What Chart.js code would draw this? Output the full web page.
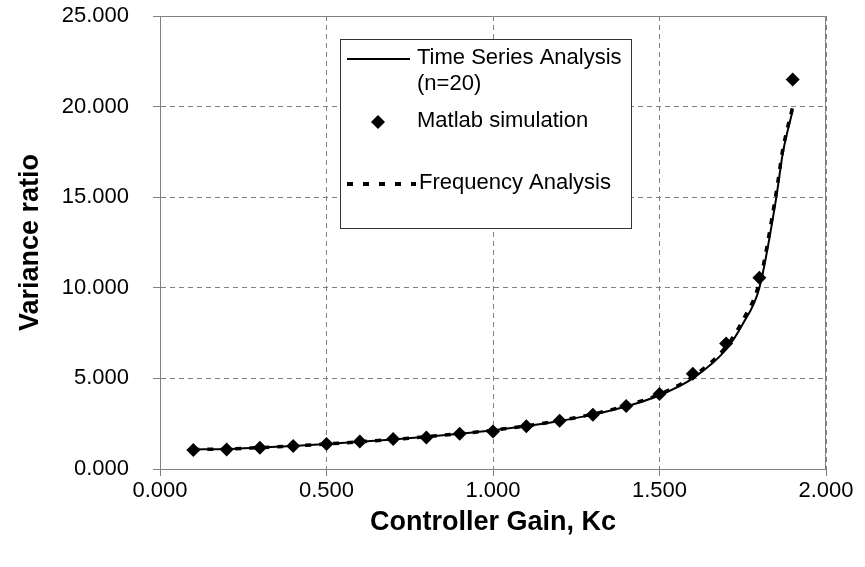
<!DOCTYPE html>
<html>
<head>
<meta charset="utf-8">
<script src="https://cdn.jsdelivr.net/npm/chart.js@4.4.1/dist/chart.umd.min.js"></script>
<style>
	html, body { margin: 0; padding: 0; background: #fff; }
	#box { position: relative; width: 865px; height: 567px; }
</style>
</head>
<body>
<div id="box"><canvas id="grafico" width="865" height="567"></canvas></div>
<script>
// Controller gain values of the Matlab runs
const kcSim = [0.1, 0.2, 0.3, 0.4, 0.5, 0.6, 0.7, 0.8, 0.9, 1.0, 1.1, 1.2, 1.3, 1.4, 1.5, 1.6, 1.7, 1.8, 1.9];
const simRatio = [1.05, 1.07, 1.17, 1.27, 1.38, 1.52, 1.66, 1.74, 1.94, 2.07, 2.36, 2.66, 3.0, 3.48, 4.14, 5.26, 6.92, 10.55, 21.5];

// gain values of the two analysis curves
const kcLine = [0.1, 0.2, 0.3, 0.4, 0.5, 0.6, 0.7, 0.8, 0.9, 1.0, 1.1, 1.2, 1.3, 1.4, 1.5, 1.6, 1.7, 1.75, 1.8, 1.85, 1.87, 1.9];
const tsaRatio = [1.08, 1.1, 1.18, 1.27, 1.38, 1.5, 1.63, 1.78, 1.95, 2.14, 2.37, 2.65, 3.0, 3.45, 4.07, 5.0, 6.6, 8.0, 10.0, 14.9, 17.4, 19.8];
const freqRatio = [1.08, 1.1, 1.18, 1.27, 1.38, 1.5, 1.63, 1.78, 1.95, 2.14, 2.38, 2.67, 3.03, 3.5, 4.12, 5.1, 6.75, 8.2, 10.3, 15.2, 17.6, 20.0];

const xTicks = [0, 0.5, 1.0, 1.5, 2.0];
const yTicks = [0, 5, 10, 15, 20, 25];

const legendItems = ["Time Series Analysis", "(n=20)", "Matlab simulation", "Frequency Analysis"];

window.onload = function() {
	Init();
};

function pares(xs, ys)
{
	return xs.map((x, i) => ({ x: x, y: ys[i] }));
}

// border of the plot area, drawn solid over the dashed grid
const molduraPlugin = {
	id: 'moldura',
	beforeDatasetsDraw(chart) {
		const a = chart.chartArea;
		const ctx = chart.ctx;
		ctx.save();
		ctx.strokeStyle = '#808080';
		ctx.lineWidth = 1;
		ctx.beginPath();
		ctx.moveTo(a.left, a.top + 0.5);
		ctx.lineTo(a.right - 0.5, a.top + 0.5);
		ctx.lineTo(a.right - 0.5, a.bottom);
		ctx.stroke();
		ctx.restore();
	}
};

// legend box placed inside the plot like the original
const legendaPlugin = {
	id: 'legenda',
	afterDraw(chart) {
		const ctx = chart.ctx;
		ctx.save();
		ctx.fillStyle = '#fff';
		ctx.fillRect(340, 39, 292, 190);
		ctx.strokeStyle = '#333';
		ctx.lineWidth = 1;
		ctx.strokeRect(340.5, 39.5, 291, 189);

		ctx.strokeStyle = '#000';
		ctx.lineWidth = 2;
		ctx.beginPath();
		ctx.moveTo(347, 59);
		ctx.lineTo(410, 59);
		ctx.stroke();

		ctx.fillStyle = '#000';
		ctx.beginPath();
		ctx.moveTo(378, 115);
		ctx.lineTo(385, 122);
		ctx.lineTo(378, 129);
		ctx.lineTo(371, 122);
		ctx.closePath();
		ctx.fill();

		ctx.lineWidth = 4;
		ctx.setLineDash([6, 10]);
		ctx.beginPath();
		ctx.moveTo(347, 184);
		ctx.lineTo(416, 184);
		ctx.stroke();
		ctx.setLineDash([]);

		ctx.font = '22px "Liberation Sans", Arial, sans-serif';
		ctx.textBaseline = 'middle';
		ctx.textAlign = 'left';
		ctx.fillText(legendItems[0], 417, 58);
		ctx.fillText(legendItems[1], 417, 84);
		ctx.fillText(legendItems[2], 417, 121);
		ctx.fillText(legendItems[3], 419, 183);
		ctx.restore();
	}
};

function Init()
{
	const fonteEixo = { family: '"Liberation Sans", Arial, sans-serif', size: 22 };
	const fonteTitulo = { family: '"Liberation Sans", Arial, sans-serif', size: 27, weight: 'bold' };

	new Chart(document.getElementById("grafico").getContext("2d"), {
		type: "scatter",
		data: {
			datasets: [
				{
					label: "Matlab simulation",
					data: pares(kcSim, simRatio),
					showLine: false,
					pointStyle: 'rectRot',
					pointRadius: 7,
					backgroundColor: '#000',
					borderColor: '#000',
					borderWidth: 0,
					order: 0
				},
				{
					label: "Frequency Analysis",
					data: pares(kcLine, freqRatio),
					showLine: true,
					pointRadius: 0,
					borderColor: '#000',
					borderWidth: 3.5,
					borderDash: [6, 8],
					cubicInterpolationMode: 'monotone',
					order: 1
				},
				{
					label: "Time Series Analysis (n=20)",
					data: pares(kcLine, tsaRatio),
					showLine: true,
					pointRadius: 0,
					borderColor: '#000',
					borderWidth: 2,
					cubicInterpolationMode: 'monotone',
					order: 2
				}
			]
		},
		options: {
			responsive: false,
			animation: false,
			devicePixelRatio: 1,
			layout: { padding: { top: 16, right: 39, left: 0, bottom: 0 } },
			plugins: {
				legend: { display: false },
				tooltip: { enabled: false }
			},
			scales: {
				x: {
					type: 'linear',
					min: 0,
					max: 2,
					afterFit: function(scale) { scale.height = 98; },
					afterBuildTicks: function(scale) { scale.ticks = xTicks.map(v => ({ value: v })); },
					ticks: {
						color: '#000',
						font: fonteEixo,
						padding: 2,
						maxRotation: 0,
						callback: v => v.toFixed(3)
					},
					grid: {
						color: '#808080',
						lineWidth: 1,
						tickLength: 7,
						tickColor: '#808080',
						drawOnChartArea: true
					},
					border: { display: true, color: '#808080', width: 1, dash: [5, 4] },
					title: {
						display: true,
						text: "Controller Gain, Kc",
						color: '#000',
						font: fonteTitulo,
						padding: { top: 0, bottom: 28 }
					}
				},
				y: {
					type: 'linear',
					min: 0,
					max: 25,
					afterFit: function(scale) {
						scale.width = 160;
						scale.paddingTop = 0;
						scale.paddingBottom = 0;
					},
					afterBuildTicks: function(scale) { scale.ticks = yTicks.map(v => ({ value: v })); },
					ticks: {
						color: '#000',
						font: fonteEixo,
						padding: 24,
						callback: v => v.toFixed(3)
					},
					grid: {
						color: '#808080',
						lineWidth: 1,
						tickLength: 7,
						tickColor: '#808080'
					},
					border: { display: true, color: '#808080', width: 1, dash: [5, 4] },
					title: {
						display: true,
						text: "Variance ratio",
						color: '#000',
						font: fonteTitulo,
						padding: { top: 14, bottom: 0 }
					}
				}
			}
		},
		plugins: [molduraPlugin, legendaPlugin]
	});
}
</script>
</body>
</html>
